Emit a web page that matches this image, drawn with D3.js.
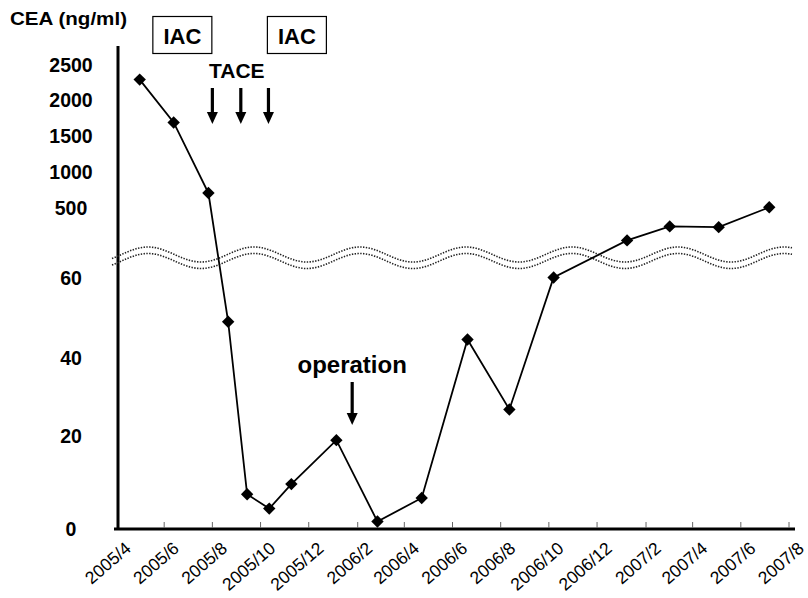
<!DOCTYPE html>
<html>
<head>
<meta charset="utf-8">
<script src="https://cdn.jsdelivr.net/npm/d3@7/dist/d3.min.js"></script>
<style>
  html, body { margin: 0; padding: 0; background: #fff; }
  svg { display: block; }
  text { font-family: "Liberation Sans", Arial, Helvetica, sans-serif; fill: #000; }
</style>
</head>
<body>
<svg id="chart" width="808" height="598"></svg>
<script>
// ---------- data ----------
const dates = ["2005-05-01","2005-06-13","2005-07-27","2005-08-21","2005-09-14","2005-10-12",
               "2005-11-09","2006-01-05","2006-02-26","2006-04-23","2006-06-20","2006-08-12",
               "2006-10-07","2007-01-08","2007-03-03","2007-05-04","2007-07-07"];
const cea = [2290, 1694, 712, 49, 7.4, 4.3, 9.6, 19.1, 1.5, 6.6, 44.6, 26.8, 60.3, 296, 385, 380, 514];

const xTickLabels = ["2005/4","2005/6","2005/8","2005/10","2005/12","2006/2","2006/4","2006/6",
                     "2006/8","2006/10","2006/12","2007/2","2007/4","2007/6","2007/8"];
const yTickLabels = [0, 20, 40, 60, 500, 1000, 1500, 2000, 2500];

const taceDates = ["2005-08-01","2005-09-06","2005-10-11"];
const iacDates = ["2005-06-24","2005-11-16"];
const operationDate = "2006-01-25";

// ---------- scales ----------
const parse = d3.timeParse("%Y-%m-%d");
const parseTick = d3.timeParse("%Y/%m");
const svg = d3.select("#chart");

const x = d3.scaleTime()
  .domain([parseTick("2005/4"), parseTick("2007/8")])
  .range([116, 789]);

// broken axis: 0-60 linear, 60-500 compressed band, 500-2500 linear
const y = d3.scaleLinear()
  .domain([0, 20, 40, 60, 500, 2500])
  .range([528.5, 436, 358, 277.5, 208.3, 64.5]);

// ---------- axes ----------
const xTicks = xTickLabels.map(parseTick);
const xAxis = d3.axisBottom(x).tickValues(xTicks).tickSize(0).tickFormat("");
const gx = svg.append("g").attr("transform", "translate(0,529)").call(xAxis);
gx.select(".domain").remove();
svg.append("line").attr("x1", 114).attr("x2", 795).attr("y1", 529).attr("y2", 529)
  .attr("stroke", "#000").attr("stroke-width", 3);
svg.append("g").selectAll("line").data(xTicks.slice(1)).join("line")
  .attr("x1", d => x(d)).attr("x2", d => x(d)).attr("y1", 522).attr("y2", 528)
  .attr("stroke", "#666").attr("stroke-width", 1);
svg.append("g").selectAll("text").data(xTicks).join("text")
  .attr("transform", d => `translate(${x(d) + 16},${550}) rotate(-41)`)
  .attr("text-anchor", "end")
  .attr("font-size", 17.5)
  .text((d, i) => xTickLabels[i]);

// y axis line
svg.append("line").attr("x1", 118).attr("x2", 118).attr("y1", 46).attr("y2", 530)
  .attr("stroke", "#000").attr("stroke-width", 3);
svg.append("g").selectAll("text").data(yTickLabels).join("text")
  .attr("x", 71).attr("y", d => y(d))
  .attr("dy", "0.36em")
  .attr("text-anchor", "middle")
  .attr("font-size", 19.5).attr("font-weight", "bold")
  .text(d => d);

svg.append("text").attr("x", 10).attr("y", 25)
  .attr("font-size", 19).attr("font-weight", "bold")
  .attr("textLength", 117).attr("lengthAdjust", "spacingAndGlyphs")
  .text("CEA (ng/ml)");

// ---------- break wave ----------
const waveX = d3.range(112, 793, 2);
const wave = off => d3.line()(waveX.map(px => [px, 254.5 + off - 7.5 * Math.cos(2 * Math.PI * (px - 148) / 106)]));
[0, 6.5].forEach(off => {
  svg.append("path").attr("d", wave(off)).attr("fill", "none")
    .attr("stroke", "#222").attr("stroke-width", 1.6).attr("stroke-dasharray", "1.4,1.4");
});

// ---------- data line ----------
const data = dates.map((d, i) => ({ date: parse(d), value: cea[i] }));
svg.append("path").datum(data)
  .attr("d", d3.line().x(d => x(d.date)).y(d => y(d.value)))
  .attr("fill", "none").attr("stroke", "#000").attr("stroke-width", 1.8);
svg.append("g").selectAll("path").data(data).join("path")
  .attr("transform", d => `translate(${x(d.date)},${y(d.value)})`)
  .attr("d", "M0,-6.2L6.2,0L0,6.2L-6.2,0Z")
  .attr("fill", "#000");

// ---------- annotations ----------
function arrow(cx, y1, y2) {
  svg.append("line").attr("x1", cx).attr("x2", cx).attr("y1", y1).attr("y2", y2 - 10)
    .attr("stroke", "#000").attr("stroke-width", 3.2);
  svg.append("path").attr("d", `M${cx - 5.5},${y2 - 12}L${cx + 5.5},${y2 - 12}L${cx},${y2}Z`).attr("fill", "#000");
}
taceDates.forEach(d => arrow(x(parse(d)), 88, 124));
svg.append("text").attr("x", x(parse(taceDates[1])) - 4).attr("y", 78)
  .attr("text-anchor", "middle").attr("font-size", 21).attr("font-weight", "bold").text("TACE");

iacDates.forEach(d => {
  const cx = x(parse(d));
  svg.append("rect").attr("x", cx - 29.5).attr("y", 16.5).attr("width", 59).attr("height", 37)
    .attr("fill", "#fff").attr("stroke", "#000").attr("stroke-width", 1.2);
  svg.append("text").attr("x", cx).attr("y", 43.5).attr("text-anchor", "middle")
    .attr("font-size", 22).attr("font-weight", "bold").text("IAC");
});

const ox = x(parse(operationDate));
svg.append("text").attr("x", ox).attr("y", 373).attr("text-anchor", "middle")
  .attr("font-size", 24).attr("font-weight", "bold").text("operation");
arrow(ox, 382, 425);
</script>
</body>
</html>
